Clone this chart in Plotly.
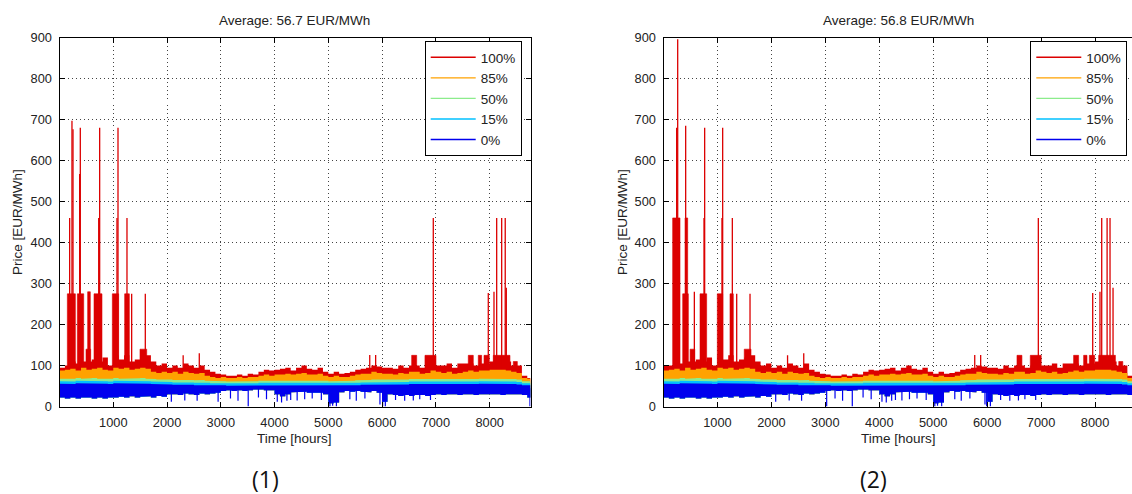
import plotly.graph_objects as go

# ---------------- data ----------------
HOURS_END = 8760
bin_start = list(range(0, 8800, 100))          # 100-hour bins, 88 bins
series_names = ["100%", "85%", "50%", "15%", "0%"]
series_colors = ["#dc0000", "#ffa200", "#8cec8c", "#00c0ff", "#0000ee"]

# ---- Panel (1) ----
p1_red_hi = [95, 100, 110, 105, 110, 110, 115, 110, 120, 100,
             125, 115, 125, 110, 115, 120, 125, 110, 100, 105,
             95, 100, 95, 105, 100, 95, 100, 90, 85, 80,
             78, 75, 75, 78, 75, 80, 78, 85, 90, 88,
             90, 92, 95, 88, 95, 100, 92, 90, 95, 85,
             80, 85, 80, 82, 85, 90, 92, 95, 100, 98,
             95, 95, 92, 100, 95, 100, 100, 95, 100, 100,
             100, 100, 105, 95, 105, 105, 105, 100, 105, 105,
             110, 110, 110, 110, 100, 100, 75, 70]
p1_orange_hi = [88, 90, 92, 88, 95, 90, 92, 95, 90, 88,
                95, 92, 95, 90, 92, 95, 92, 85, 82, 85,
                82, 85, 80, 85, 82, 80, 82, 75, 72, 70,
                72, 70, 70, 72, 70, 72, 72, 75, 78, 75,
                78, 78, 80, 78, 80, 82, 78, 78, 80, 75,
                72, 75, 72, 72, 75, 78, 80, 80, 85, 82,
                80, 80, 78, 82, 80, 85, 85, 80, 82, 88,
                85, 82, 85, 80, 82, 85, 88, 85, 88, 88,
                90, 90, 90, 88, 85, 82, 70, 68]
p1_green_hi = [68, 69, 68, 70, 68, 69, 70, 68, 69, 68,
               70, 68, 69, 68, 69, 70, 68, 67, 66, 67,
               66, 65, 65, 66, 65, 64, 65, 63, 62, 62,
               62, 61, 61, 62, 61, 62, 62, 63, 63, 63,
               63, 64, 64, 63, 64, 64, 63, 63, 64, 63,
               62, 62, 62, 62, 63, 64, 65, 65, 66, 66,
               65, 66, 65, 66, 66, 67, 67, 66, 67, 67,
               67, 66, 67, 66, 67, 67, 67, 67, 68, 68,
               68, 68, 68, 67, 67, 66, 62, 62]
p1_cyan_hi = [62, 62, 61, 63, 62, 62, 63, 62, 62, 61,
              63, 62, 62, 62, 62, 63, 62, 61, 60, 61,
              60, 59, 59, 60, 59, 58, 59, 58, 57, 57,
              57, 56, 56, 57, 56, 57, 57, 58, 58, 58,
              58, 58, 58, 58, 58, 58, 58, 58, 58, 58,
              57, 57, 57, 57, 58, 58, 59, 59, 60, 60,
              59, 60, 59, 60, 60, 61, 61, 60, 61, 61,
              61, 60, 61, 60, 61, 61, 61, 61, 62, 62,
              62, 62, 62, 61, 61, 60, 57, 57]
p1_blue_hi = [56, 56, 55, 57, 56, 56, 57, 56, 56, 55,
              57, 56, 56, 56, 56, 57, 56, 55, 55, 55,
              54, 53, 53, 54, 53, 52, 53, 52, 52, 52,
              52, 51, 51, 52, 51, 52, 52, 52, 52, 52,
              52, 52, 52, 52, 52, 52, 52, 52, 52, 52,
              51, 51, 51, 51, 52, 52, 53, 53, 54, 54,
              53, 54, 53, 54, 54, 55, 55, 54, 55, 55,
              55, 54, 55, 54, 55, 55, 55, 55, 56, 56,
              56, 56, 56, 55, 55, 54, 52, 52]
p1_blue_lo = [22, 20, 22, 20, 22, 22, 20, 22, 20, 22,
              22, 24, 22, 25, 22, 24, 25, 22, 26, 24,
              30, 30, 28, 32, 30, 28, 32, 30, 32, 34,
              38, 40, 38, 40, 38, 40, 42, 42, 40, 40,
              30, 25, 30, 35, 35, 36, 34, 35, 34, 30,
              8, 10, 35, 38, 36, 38, 36, 35, 38, 34,
              12, 30, 28, 26, 28, 26, 28, 28, 26, 28,
              30, 28, 30, 30, 28, 30, 30, 28, 30, 30,
              30, 30, 28, 30, 30, 30, 28, 22]
# dense red plateaus: start hour, end hour, level
p1_block_start = [146, 332, 524, 642, 983, 1212, 493, 1497, 6550, 6797, 7603, 7789, 7895, 8068, 8440]
p1_block_end   = [295, 450, 573, 790, 1100, 1299, 580, 1622, 6643, 7002, 7696, 7851, 7994, 8378, 8515]
p1_block_level = [275, 275, 280, 275, 275, 275, 140, 140, 125, 125, 125, 125, 125, 125, 110]
# thin red price spikes
p1_spike_hour  = [189, 232, 251, 375, 387, 729, 747, 1069, 1088, 1255, 1342, 1596,
                  2300, 2600, 5770, 5880, 6952, 7975, 8081, 8131, 8224, 8290, 8310]
p1_spike_value = [460, 697, 676, 567, 680, 460, 680, 460, 680, 460, 275, 275,
                  125, 130, 126, 126, 460, 277, 280, 460, 460, 460, 290]
# thin downward dips of the 0% series
p1_dip_hour  = [2080, 2330, 2560, 2950, 3180, 3320, 3510, 3700, 3850, 4050, 4130, 4230,
                4300, 4420, 4560, 4700, 4870, 5030, 5080, 5150, 5400, 5520, 5680, 5960,
                6010, 6060, 6250, 6420, 6580, 6700, 6900, 8750]
p1_dip_value = [12, 15, 14, 12, 20, 14, 0, 22, 18, 12, 10, 14,
                16, 15, 18, 20, 16, 0, 2, 0, 18, 14, 20, 5,
                0, 0, 16, 14, 15, 18, 16, 0]

# ---- Panel (2) ----
p2_red_hi = [100, 100, 110, 105, 110, 110, 115, 110, 120, 100,
             125, 115, 125, 110, 115, 120, 125, 110, 100, 105,
             95, 100, 95, 105, 100, 95, 105, 90, 85, 80,
             78, 75, 75, 78, 75, 80, 78, 85, 90, 88,
             90, 92, 95, 88, 95, 100, 92, 90, 95, 85,
             80, 85, 80, 82, 85, 90, 92, 95, 100, 98,
             95, 95, 92, 100, 95, 100, 100, 95, 100, 100,
             100, 100, 105, 95, 105, 105, 105, 100, 105, 105,
             110, 110, 110, 110, 100, 100, 75, 70]
p2_orange_hi = [88, 90, 92, 88, 95, 90, 92, 95, 90, 88,
                95, 92, 95, 90, 92, 95, 92, 85, 82, 85,
                82, 85, 80, 85, 82, 80, 82, 75, 72, 70,
                72, 70, 70, 72, 70, 72, 72, 75, 78, 75,
                78, 78, 80, 78, 80, 82, 78, 78, 80, 75,
                72, 75, 72, 72, 75, 78, 80, 80, 85, 82,
                80, 80, 78, 82, 80, 85, 85, 80, 82, 88,
                85, 82, 85, 80, 82, 85, 88, 85, 88, 88,
                90, 90, 90, 88, 85, 82, 70, 68]
p2_green_hi = [68, 69, 68, 70, 68, 69, 70, 68, 69, 68,
               70, 68, 69, 68, 69, 70, 68, 67, 66, 67,
               66, 65, 65, 66, 65, 64, 65, 63, 62, 62,
               62, 61, 61, 62, 61, 62, 62, 63, 63, 63,
               63, 64, 64, 63, 64, 64, 63, 63, 64, 63,
               62, 62, 62, 62, 63, 64, 65, 65, 66, 66,
               65, 66, 65, 66, 66, 67, 67, 66, 67, 67,
               67, 66, 67, 66, 67, 67, 67, 67, 68, 68,
               68, 68, 68, 67, 67, 66, 62, 62]
p2_cyan_hi = [62, 62, 61, 63, 62, 62, 63, 62, 62, 61,
              63, 62, 62, 62, 62, 63, 62, 61, 60, 61,
              60, 59, 59, 60, 59, 58, 59, 58, 57, 57,
              57, 56, 56, 57, 56, 57, 57, 58, 58, 58,
              58, 58, 58, 58, 58, 58, 58, 58, 58, 58,
              57, 57, 57, 57, 58, 58, 59, 59, 60, 60,
              59, 60, 59, 60, 60, 61, 61, 60, 61, 61,
              61, 60, 61, 60, 61, 61, 61, 61, 62, 62,
              62, 62, 62, 61, 61, 60, 57, 57]
p2_blue_hi = [56, 56, 55, 57, 56, 56, 57, 56, 56, 55,
              57, 56, 56, 56, 56, 57, 56, 55, 55, 55,
              54, 53, 53, 54, 53, 52, 53, 52, 52, 52,
              52, 51, 51, 52, 51, 52, 52, 52, 52, 52,
              52, 52, 52, 52, 52, 52, 52, 52, 52, 52,
              51, 51, 51, 51, 52, 52, 53, 53, 54, 54,
              53, 54, 53, 54, 54, 55, 55, 54, 55, 55,
              55, 54, 55, 54, 55, 55, 55, 55, 56, 56,
              56, 56, 56, 55, 55, 54, 52, 52]
p2_blue_lo = [22, 20, 22, 20, 22, 22, 20, 22, 20, 22,
              22, 24, 22, 25, 22, 24, 25, 22, 26, 24,
              30, 30, 28, 32, 30, 28, 32, 30, 32, 34,
              38, 40, 38, 40, 38, 40, 42, 42, 40, 40,
              30, 25, 30, 35, 35, 36, 34, 35, 34, 30,
              8, 10, 35, 38, 36, 38, 36, 35, 38, 34,
              12, 30, 28, 26, 28, 26, 28, 28, 26, 28,
              30, 28, 30, 30, 28, 30, 30, 28, 30, 30,
              30, 30, 28, 30, 30, 30, 28, 22]
p2_block_start = [170, 356, 399, 677, 998, 1233, 493, 1497, 6553, 6800, 7603, 7789, 7895, 8068, 8440]
p2_block_end   = [306, 460, 448, 800, 1097, 1294, 580, 1622, 6645, 7002, 7696, 7851, 7994, 8378, 8515]
p2_block_level = [460, 275, 460, 275, 275, 275, 140, 140, 125, 125, 125, 125, 125, 125, 110]
p2_spike_hour  = [244, 263, 411, 572, 751, 763, 1084, 1097, 1276, 1357, 1604,
                  2300, 2600, 5770, 5880, 6949, 7957, 8092, 8124, 8224, 8278, 8334]
p2_spike_value = [680, 896, 685, 280, 460, 680, 460, 680, 460, 275, 275,
                  125, 130, 126, 126, 460, 277, 280, 460, 460, 460, 290]
p2_dip_hour  = [2080, 2330, 2560, 3025, 3180, 3320, 3500, 3700, 3850, 4050, 4130, 4230,
                4300, 4420, 4560, 4700, 4870, 5030, 5080, 5157, 5400, 5520, 5680, 5960,
                5991, 6060, 6250, 6420, 6580, 6700, 6900, 8750]
p2_dip_value = [12, 15, 14, 0, 20, 14, 0, 22, 18, 12, 10, 14,
                16, 15, 18, 20, 16, 0, 2, 0, 18, 14, 20, 5,
                0, 0, 16, 14, 15, 18, 16, 0]

averages = ["56.7", "56.8"]
panel_labels = ["(1)", "(2)"]
y_ticks = [0, 100, 200, 300, 400, 500, 600, 700, 800, 900]
x_ticks = [1000, 2000, 3000, 4000, 5000, 6000, 7000, 8000]

# ---------------- helpers ----------------
BASE = 45  # hidden base level (covered by the 0% band)


def band(hi, lo):
    xs, ys = [], []
    for i, s in enumerate(bin_start):
        e = min(s + 100, HOURS_END)
        xs += [s, e]
        ys += [hi[i], hi[i]]
    for i in reversed(range(len(bin_start))):
        s = bin_start[i]
        e = min(s + 100, HOURS_END)
        xs += [e, s]
        ys += [lo[i], lo[i]]
    return xs, ys


def blocks(starts, ends, levels):
    xs, ys = [], []
    for s, e, l in zip(starts, ends, levels):
        xs += [s, s, e, e, s, None]
        ys += [BASE, l, l, BASE, BASE, None]
    return xs, ys


def spikes(hours, values, base=BASE):
    xs, ys = [], []
    for h, v in zip(hours, values):
        xs += [h, h, None]
        ys += [base, v, None]
    return xs, ys


FONT = "Liberation Sans, Arial, sans-serif"
TXT = 13.5
fig = go.Figure()

panels = [
    dict(red=p1_red_hi, orange=p1_orange_hi, green=p1_green_hi, cyan=p1_cyan_hi,
         bhi=p1_blue_hi, blo=p1_blue_lo, bs=p1_block_start, be=p1_block_end,
         bl=p1_block_level, sh=p1_spike_hour, sv=p1_spike_value,
         dh=p1_dip_hour, dv=p1_dip_value, xa="x", ya="y", leg="legend"),
    dict(red=p2_red_hi, orange=p2_orange_hi, green=p2_green_hi, cyan=p2_cyan_hi,
         bhi=p2_blue_hi, blo=p2_blue_lo, bs=p2_block_start, be=p2_block_end,
         bl=p2_block_level, sh=p2_spike_hour, sv=p2_spike_value,
         dh=p2_dip_hour, dv=p2_dip_value, xa="x2", ya="y2", leg="legend2"),
]

for P in panels:
    common = dict(xaxis=P["xa"], yaxis=P["ya"], showlegend=False, hoverinfo="skip")
    # 100 %
    x, y = band(P["red"], P["blo"])
    fig.add_trace(go.Scatter(x=x, y=y, fill="toself", fillcolor=series_colors[0],
                             line=dict(width=0), mode="lines", **common))
    x, y = blocks(P["bs"], P["be"], P["bl"])
    fig.add_trace(go.Scatter(x=x, y=y, fill="toself", fillcolor=series_colors[0],
                             line=dict(width=0.6, color=series_colors[0]), mode="lines", **common))
    x, y = spikes(P["sh"], P["sv"])
    fig.add_trace(go.Scatter(x=x, y=y, mode="lines",
                             line=dict(width=1.3, color=series_colors[0]), **common))
    # 85 %, 50 %, 15 %
    for key, col in (("orange", series_colors[1]), ("green", series_colors[2]),
                     ("cyan", series_colors[3])):
        x, y = band(P[key], P["blo"])
        fig.add_trace(go.Scatter(x=x, y=y, fill="toself", fillcolor=col,
                                 line=dict(width=0), mode="lines", **common))
    # 0 %
    x, y = band(P["bhi"], P["blo"])
    fig.add_trace(go.Scatter(x=x, y=y, fill="toself", fillcolor=series_colors[4],
                             line=dict(width=0), mode="lines", **common))
    x, y = spikes(P["dh"], P["dv"])
    fig.add_trace(go.Scatter(x=x, y=y, mode="lines",
                             line=dict(width=1.2, color=series_colors[4]), **common))
    # legend entries
    for name, col in zip(series_names, series_colors):
        fig.add_trace(go.Scatter(x=[None], y=[None], mode="lines", name=name,
                                 line=dict(color=col, width=1.4), xaxis=P["xa"],
                                 yaxis=P["ya"], legend=P["leg"], showlegend=True))

W, H = 1132, 494
y_dom = [(H - 406.6) / H, (H - 37.5) / H]
axis_common = dict(showline=True, linecolor="black", linewidth=1, ticks="inside",
                   ticklen=5, tickcolor="black", showgrid=True, gridcolor="#444",
                   griddash="1px,3px", gridwidth=1, zeroline=False, automargin=False,
                   tickfont=dict(family=FONT, size=12.8, color="#222"))

legend_common = dict(bgcolor="white", bordercolor="black", borderwidth=1,
                     font=dict(family=FONT, size=TXT, color="#222"),
                     tracegroupgap=0, itemwidth=45,
                     y=(H - 41) / H, yanchor="top", xanchor="right")

fig.update_layout(
    width=W, height=H, margin=dict(l=0, r=0, t=0, b=0, autoexpand=False),
    paper_bgcolor="white", plot_bgcolor="white",
    xaxis=dict(domain=[59.5 / W, 530.5 / W], range=[0, HOURS_END], tickvals=x_ticks,
               anchor="y", mirror="ticks", ticklabelstandoff=4, **axis_common),
    yaxis=dict(domain=y_dom, range=[0, 900], tickvals=y_ticks, anchor="x",
               mirror="ticks", ticklabelstandoff=4, **axis_common),
    xaxis2=dict(domain=[663.5 / W, 1.0], range=[0, (W - 663.5) / 0.05394], tickvals=x_ticks,
                anchor="y2", mirror="ticks", ticklabelstandoff=4, **axis_common),
    yaxis2=dict(domain=y_dom, range=[0, 900], tickvals=y_ticks, anchor="x2",
                mirror=False, ticklabelstandoff=4, **axis_common),
    legend=dict(x=521.7 / W, **legend_common),
    legend2=dict(x=1127.3 / W, **legend_common),
)

annotations = []
for cx, avg, lab, lab_x, ylab_x in ((294.7, averages[0], panel_labels[0], 265, 17),
                                    (898.0, averages[1], panel_labels[1], 873, 622)):
    annotations.append(dict(x=cx / W, y=1 - 20 / H, xref="paper", yref="paper",
                            text=f"Average: {avg} EUR/MWh", showarrow=False,
                            font=dict(family=FONT, size=TXT, color="#222"),
                            xanchor="center", yanchor="middle"))
    annotations.append(dict(x=cx / W, y=1 - 438 / H, xref="paper", yref="paper",
                            text="Time [hours]", showarrow=False,
                            font=dict(family=FONT, size=TXT, color="#222"),
                            xanchor="center", yanchor="middle"))
    annotations.append(dict(x=ylab_x / W, y=1 - 222 / H, xref="paper", yref="paper",
                            text="Price [EUR/MWh]", showarrow=False, textangle=-90,
                            font=dict(family=FONT, size=TXT, color="#222"),
                            xanchor="center", yanchor="middle"))
    annotations.append(dict(x=lab_x / W, y=1 - 479 / H, xref="paper", yref="paper",
                            text=lab, showarrow=False,
                            font=dict(family="Open Sans, sans-serif", size=23, color="#111"),
                            xanchor="center", yanchor="middle"))
fig.update_layout(annotations=annotations)

fig.write_html("out.html")
